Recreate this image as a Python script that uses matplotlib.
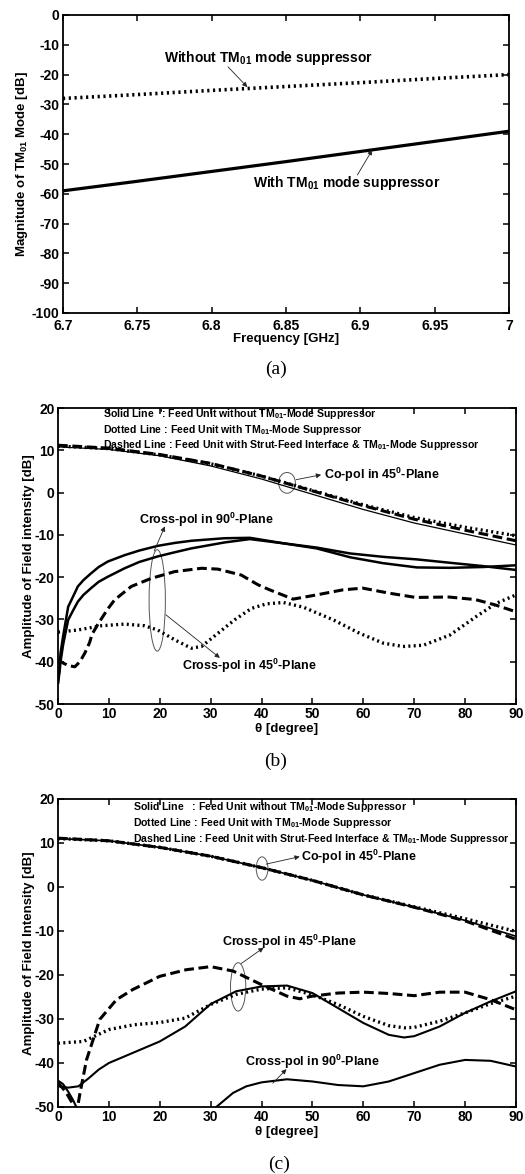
import matplotlib

matplotlib.use("Agg")
import matplotlib.pyplot as plt
from matplotlib.patches import Ellipse

plt.rcParams["font.family"] = ["Liberation Sans", "DejaVu Sans"]
plt.rcParams["font.weight"] = "bold"
plt.rcParams["axes.unicode_minus"] = False
plt.rcParams["mathtext.fontset"] = "custom"
plt.rcParams["mathtext.rm"] = "Liberation Sans:bold"
plt.rcParams["mathtext.it"] = "Liberation Sans:bold"
plt.rcParams["mathtext.bf"] = "Liberation Sans:bold"
plt.rcParams["mathtext.default"] = "bf"

# ---- panel (a): TM01 magnitude vs frequency
freq = [6.7, 6.75, 6.8, 6.85, 6.9, 6.95, 7.0]
tm01_without = [-28.0, -26.7, -25.3, -24.0, -22.7, -21.3, -20.0]
tm01_with = [-59.0, -55.8, -52.5, -49.2, -45.8, -42.4, -39.0]
freq_ticks = [6.7, 6.75, 6.8, 6.85, 6.9, 6.95, 7.0]
freq_labels = ["6.7", "6.75", "6.8", "6.85", "6.9", "6.95", "7"]

# ---- panel (b)
b_co_th = [0, 10, 20, 30, 40, 50, 60, 70, 80, 90]
b_co_solid = [10.8, 10.2, 8.7, 6.3, 3.2, -0.4, -4.0, -7.2, -9.8, -12.4]
b_co_dashed = [11.2, 10.5, 9.0, 6.9, 3.9, 0.4, -3.1, -6.3, -8.9, -11.4]
b_co_dotted = [11.0, 10.4, 8.9, 6.8, 3.9, 0.5, -2.9, -5.9, -8.2, -10.2]

b_xa_th = [0, 0.3, 0.5, 1, 1.5, 2, 3, 3.9, 5, 6.5, 8, 9.8, 13.1, 16, 19.6, 23,
           26.2, 32.7, 37.7, 44.3, 50.8, 57.4, 63.9, 70.5, 77, 83.6, 90]
b_xa_solid = [-45, -41, -38, -34, -30.5, -27, -24.5, -22.2, -20.7, -19.1,
              -17.6, -16.3, -14.8, -13.7, -12.6, -11.9, -11.4, -10.8, -10.7,
              -12.0, -13.0, -14.4, -15.2, -15.8, -16.6, -17.4, -18.3]
b_xb_solid = [-45, -42.5, -40, -36, -33, -30.1, -27.8, -25.8, -24.2, -22.6,
              -21.1, -19.9, -17.9, -16.4, -15.1, -14.1, -13.2, -11.8, -11.0,
              -12.0, -13.2, -15.3, -16.7, -17.7, -17.8, -17.6, -17.2]

b_xd_th = [0, 1, 2, 3.3, 4.3, 5.3, 6.2, 6.7, 7.9, 9.8, 11.1, 14.4, 18.3, 22.9,
           28.2, 31.4, 36, 39.3, 41.6, 46.2, 50.8, 56, 59.9, 65.1, 70.3, 76.8,
           82, 86, 90]
b_x_dashed = [-39.6, -40.3, -40.9, -41.2, -40.0, -37.9, -35.5, -33.5, -31.0,
              -27.5, -25.4, -22.2, -20.3, -18.7, -17.9, -18.1, -19.5, -21.8,
              -23.0, -25.2, -24.2, -23.0, -22.6, -23.8, -24.8, -24.7, -25.3,
              -26.6, -28.2]
b_xo_th = [0, 3.9, 8.5, 13.1, 17, 19.6, 22.9, 26.2, 28.2, 31.4, 34.7, 38, 41,
           44.3, 48.2, 54.1, 59.3, 63.9, 67.8, 71.8, 77, 82.2, 86.1, 90]
b_x_dotted = [-33.0, -32.5, -31.5, -31.1, -31.5, -32.5, -34.8, -36.8, -36.4,
              -33.3, -30.1, -27.4, -26.3, -26.0, -27.1, -30.1, -33.3, -35.6,
              -36.4, -36.1, -33.7, -29.3, -26.2, -24.2]

# ---- panel (c)
c_co_th = [0, 10, 20, 30, 40, 50, 60, 70, 80, 90]
c_co_solid = [11.0, 10.5, 9.0, 7.0, 4.4, 1.5, -1.8, -4.6, -7.6, -11.2]
c_co_dashed = [11.1, 10.5, 9.0, 7.0, 4.4, 1.5, -1.8, -4.6, -7.7, -11.9]
c_co_dotted = [11.0, 10.5, 9.0, 7.0, 4.4, 1.5, -1.8, -4.5, -7.2, -10.1]

c_x45_th = [0, 2, 4, 6, 8, 10, 14.7, 20, 25, 30, 35, 40, 45, 50, 55, 60, 65,
            68, 70, 75, 80, 85, 90]
c_x45_solid = [-45.3, -45.6, -45.3, -43.5, -41.5, -40.0, -37.7, -35.1, -31.7,
               -26.6, -23.7, -22.6, -22.4, -24.1, -27.5, -30.9, -33.6, -34.2,
               -33.9, -31.7, -28.6, -26.0, -23.7]
c_xo_th = [0, 5, 10, 15, 20, 25, 30, 35, 40, 45, 50, 55, 60, 65, 68, 70, 75,
           80, 85, 90]
c_x_dotted = [-35.5, -35.1, -32.4, -31.3, -30.8, -29.8, -26.7, -24.4, -23.2,
              -22.9, -24.5, -26.7, -29.4, -31.5, -32.0, -31.9, -30.5, -28.6,
              -26.5, -24.8]
c_xd_th = [0, 1.5, 3, 3.7, 4.3, 5.6, 6.9, 8.2, 11.5, 14.7, 20, 25.2, 30, 34.4,
           40, 45, 47.5, 50, 55, 60, 65, 70, 75, 80, 85, 90]
c_x_dashed = [-44.5, -46.5, -49.5, -51.0, -47.0, -39.3, -34.7, -30.1, -25.6,
              -23.3, -20.3, -18.8, -18.1, -19.1, -22.2, -24.8, -25.4, -24.8,
              -24.1, -23.9, -24.2, -24.7, -23.9, -23.9, -25.6, -27.9]
c_x90_th = [0, 1, 2, 3, 4, 10, 25, 31.1, 34.4, 37, 40, 45, 50, 55, 60, 65, 70,
            75, 80, 85, 90]
c_x90_solid = [-44.0, -44.8, -46.5, -48.5, -51.0, -60, -60, -50.0, -46.8,
               -45.3, -44.4, -43.7, -44.2, -45.0, -45.3, -44.2, -42.3, -40.4,
               -39.3, -39.5, -40.8]

deg_ticks = [0, 10, 20, 30, 40, 50, 60, 70, 80, 90]
db_ticks = [-50, -40, -30, -20, -10, 0, 10, 20]

legend_lines_b = [
    "Solid Line  ': Feed Unit without TM$_{01}$-Mode Suppressor",
    "Dotted Line : Feed Unit with TM$_{01}$-Mode Suppressor",
    "Dashed Line : Feed Unit with Strut-Feed Interface & TM$_{01}$-Mode Suppressor",
]
legend_lines_c = [
    "Solid Line   : Feed Unit without TM$_{01}$-Mode Suppressor",
    "Dotted Line : Feed Unit with TM$_{01}$-Mode Suppressor",
    "Dashed Line : Feed Unit with Strut-Feed Interface & TM$_{01}$-Mode Suppressor",
]

W, H = 525, 1174
fig = plt.figure(figsize=(W / 100, H / 100), dpi=100)

TICK_FS = 10
LAB_FS = 9.5
ANN_FS = 9
LEG_FS = 7.6
DASH = (0, (3.2, 1.5))
DOT = (0, (0.6, 1.0))


def px_axes(x0, y0, x1, y1):
    return fig.add_axes([x0 / W, 1 - y1 / H, (x1 - x0) / W, (y1 - y0) / H])


def style(ax, xpad=2.5):
    ax.tick_params(direction="in", top=True, right=True, length=4, width=1.1,
                   labelsize=TICK_FS, pad=2.5)
    ax.tick_params(axis="x", pad=xpad)
    for s in ax.spines.values():
        s.set_linewidth(1.3)
    for lab in ax.get_xticklabels() + ax.get_yticklabels():
        lab.set_fontweight("bold")


def note(ax, start, end):
    ax.annotate("", xy=end, xytext=start,
                arrowprops=dict(arrowstyle="-|>", lw=0.6, color="#222222",
                                mutation_scale=7, shrinkA=0, shrinkB=0))


def ring(ax, c, w, h):
    ax.add_patch(Ellipse(c, w, h, fill=False, lw=0.7, ec="#555555"))


# ---------------- (a)
ax = px_axes(63, 15, 509, 313)
ax.plot(freq, tm01_without, color="black", lw=2.6, ls=DOT)
ax.plot(freq, tm01_with, color="black", lw=2.3)
ax.set_xlim(6.7, 7.0)
ax.set_ylim(-100, 0)
ax.set_xticks(freq_ticks)
ax.set_xticklabels(freq_labels)
ax.set_yticks(range(-100, 1, 10))
ax.set_xlabel("Frequency [GHz]", fontsize=LAB_FS, fontweight="bold", labelpad=0)
ax.set_ylabel("Magnitude of TM$_{01}$ Mode [dB]", fontsize=LAB_FS,
              fontweight="bold", labelpad=1)
style(ax, xpad=4)
ax.text(6.768, -15.7, "Without TM$_{01}$ mode suppressor", fontsize=10,
        fontweight="bold", va="baseline")
note(ax, (6.811, -17.4), (6.824, -24.2))
ax.text(6.828, -57.8, "With TM$_{01}$ mode suppressor", fontsize=10,
        fontweight="bold", va="baseline")
note(ax, (6.898, -53.7), (6.908, -45.3))
fig.text(276 / W, 1 - 369 / H, "(a)", family="Liberation Serif",
         fontweight="normal", fontsize=14, ha="center", va="center")

# ---------------- (b)
ax = px_axes(58, 408, 516, 704)
ax.plot(b_co_th, b_co_solid, color="black", lw=0.9)
ax.plot(b_co_th, b_co_dashed, color="black", lw=2.2, ls=DASH)
ax.plot(b_co_th, b_co_dotted, color="black", lw=2.4, ls=DOT)
ax.plot(b_xa_th, b_xa_solid, color="black", lw=1.8)
ax.plot(b_xa_th, b_xb_solid, color="black", lw=1.8)
ax.plot(b_xd_th, b_x_dashed, color="black", lw=2.2, ls=DASH)
ax.plot(b_xo_th, b_x_dotted, color="black", lw=2.4, ls=DOT)
ax.set_xlim(0, 90)
ax.set_ylim(-50, 20)
ax.set_xticks(deg_ticks)
ax.set_yticks(db_ticks)
ax.set_xlabel("θ [degree]", fontsize=LAB_FS, fontweight="bold", labelpad=1)
ax.set_ylabel("Amplitude of Field intensity [dB]", fontsize=LAB_FS,
              fontweight="bold", labelpad=0)
style(ax)
for txt, yv in zip(legend_lines_b, [17.8, 14.2, 10.5]):
    ax.text(8.8, yv, txt, fontsize=LEG_FS, fontweight="bold", va="baseline")
ring(ax, (45, 2.3), 3.3, 4.9)
note(ax, (46.8, 3.05), (51.7, 4.2))
ax.text(52.3, 3.1, "Co-pol in 45$^0$-Plane", fontsize=ANN_FS,
        fontweight="bold", va="baseline")
ring(ax, (19.5, -25.5), 3.2, 24)
note(ax, (18.9, -13.8), (21.0, -8.0))
ax.text(16.0, -7.4, "Cross-pol in 90$^0$-Plane", fontsize=ANN_FS,
        fontweight="bold", va="baseline")
note(ax, (21.2, -28.9), (31.8, -39.1))
ax.text(24.4, -41.9, "Cross-pol in 45$^0$-Plane", fontsize=ANN_FS,
        fontweight="bold", va="baseline")
fig.text(276 / W, 1 - 761 / H, "(b)", family="Liberation Serif",
         fontweight="normal", fontsize=14, ha="center", va="center")

# ---------------- (c)
ax = px_axes(58, 799, 516, 1107)
ax.plot(c_co_th, c_co_solid, color="black", lw=1.2)
ax.plot(c_co_th, c_co_dotted, color="black", lw=2.4, ls=DOT)
ax.plot(c_co_th, c_co_dashed, color="black", lw=2.2, ls=DASH)
ax.plot(c_x45_th, c_x45_solid, color="black", lw=1.5)
ax.plot(c_xo_th, c_x_dotted, color="black", lw=2.4, ls=DOT)
ax.plot(c_xd_th, c_x_dashed, color="black", lw=2.2, ls=DASH)
ax.plot(c_x90_th, c_x90_solid, color="black", lw=1.5)
ax.set_xlim(0, 90)
ax.set_ylim(-50, 20)
ax.set_xticks(deg_ticks)
ax.set_yticks(db_ticks)
ax.set_xlabel("θ [degree]", fontsize=LAB_FS, fontweight="bold", labelpad=1)
ax.set_ylabel("Amplitude of Field Intensity [dB]", fontsize=LAB_FS,
              fontweight="bold", labelpad=0)
style(ax)
for txt, yv in zip(legend_lines_c, [17.4, 13.8, 10.2]):
    ax.text(14.7, yv, txt, fontsize=LEG_FS, fontweight="bold", va="baseline")
ring(ax, (40.1, 4.2), 2.3, 5.3)
note(ax, (40.9, 5.2), (47.5, 6.9))
ax.text(47.7, 5.8, "Co-pol in 45$^0$-Plane", fontsize=ANN_FS,
        fontweight="bold", va="baseline")
ring(ax, (35.4, -22.7), 3.0, 11)
note(ax, (36.0, -17.4), (40.4, -13.8))
ax.text(32.3, -13.4, "Cross-pol in 45$^0$-Plane", fontsize=ANN_FS,
        fontweight="bold", va="baseline")
note(ax, (42.2, -44.6), (44.9, -41.4))
ax.text(36.7, -40.6, "Cross-pol in 90$^0$-Plane", fontsize=ANN_FS,
        fontweight="bold", va="baseline")
fig.text(279 / W, 1 - 1164 / H, "(c)", family="Liberation Serif",
         fontweight="normal", fontsize=14, ha="center", va="center")

fig.savefig("out.png", dpi=100)
